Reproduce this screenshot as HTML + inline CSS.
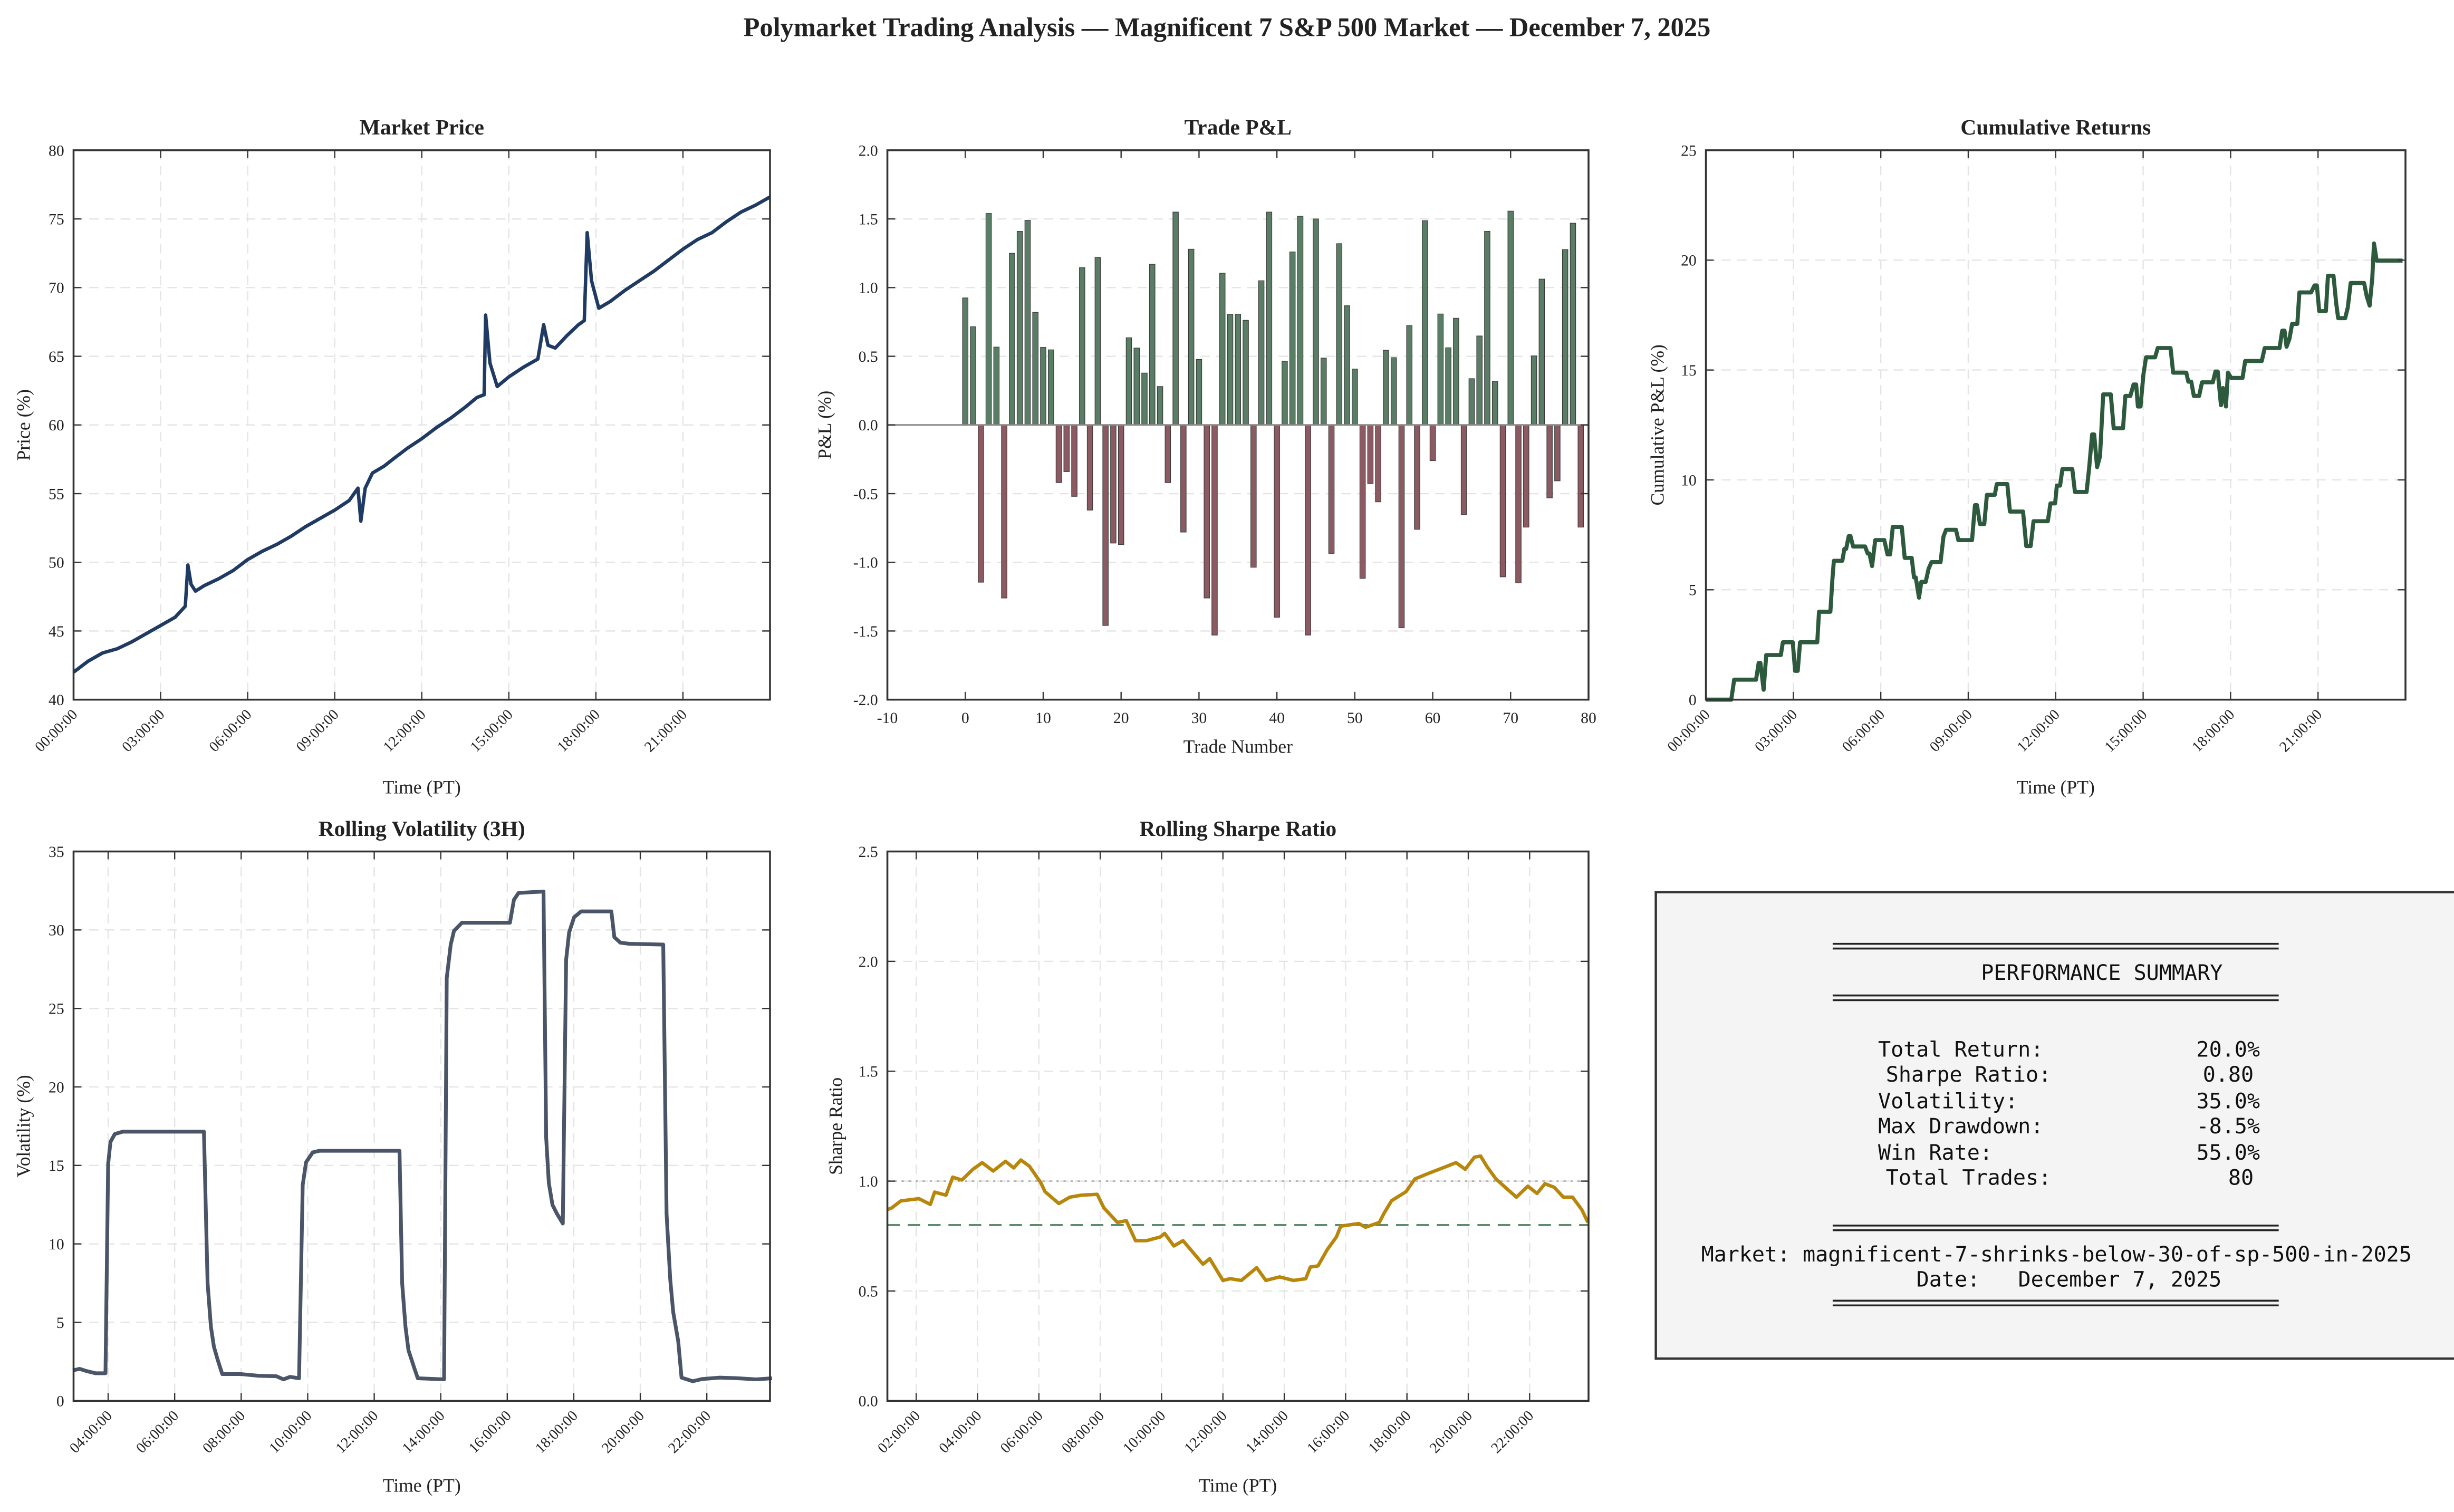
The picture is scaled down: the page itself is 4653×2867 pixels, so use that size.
<!DOCTYPE html>
<html><head><meta charset="utf-8"><style>
html,body{margin:0;padding:0;background:#fff;}
svg{display:block;}
text{font-family:"Liberation Serif",serif;fill:#222;}
.mono{font-family:"DejaVu Sans Mono","Liberation Mono",monospace;fill:#111;}
</style></head><body>
<svg id="fig" width="4653" height="2867" viewBox="0 0 1568 966" preserveAspectRatio="none" xmlns="http://www.w3.org/2000/svg">
<rect x="0" y="0" width="1568" height="966" fill="#fff"/>
<text x="784" y="23" text-anchor="middle" font-size="17" font-weight="bold">Polymarket Trading Analysis — Magnificent 7 S&amp;P 500 Market — December 7, 2025</text>
<g id="root"></g>
<g>
<rect x="1058" y="570" width="520" height="298" fill="#f4f4f4" stroke="#333" stroke-width="1.5"/>
<g stroke="#222" stroke-width="1.2">
<line x1="1171" y1="603" x2="1456" y2="603"/><line x1="1171" y1="606" x2="1456" y2="606"/>
<line x1="1171" y1="636" x2="1456" y2="636"/><line x1="1171" y1="639" x2="1456" y2="639"/>
<line x1="1171" y1="783" x2="1456" y2="783"/><line x1="1171" y1="786" x2="1456" y2="786"/>
<line x1="1171" y1="831" x2="1456" y2="831"/><line x1="1171" y1="834" x2="1456" y2="834"/>
</g>
<text class="mono" x="1343" y="626" text-anchor="middle" font-size="13.5">PERFORMANCE SUMMARY</text>
<text class="mono" x="1200" y="675" font-size="13.5">Total Return:</text>
<text class="mono" x="1444" y="675" text-anchor="end" font-size="13.5">20.0%</text>
<text class="mono" x="1205" y="691" font-size="13.5">Sharpe Ratio:</text>
<text class="mono" x="1440" y="691" text-anchor="end" font-size="13.5">0.80</text>
<text class="mono" x="1200" y="708" font-size="13.5">Volatility:</text>
<text class="mono" x="1444" y="708" text-anchor="end" font-size="13.5">35.0%</text>
<text class="mono" x="1200" y="724" font-size="13.5">Max Drawdown:</text>
<text class="mono" x="1444" y="724" text-anchor="end" font-size="13.5">-8.5%</text>
<text class="mono" x="1200" y="741" font-size="13.5">Win Rate:</text>
<text class="mono" x="1444" y="741" text-anchor="end" font-size="13.5">55.0%</text>
<text class="mono" x="1205" y="757" font-size="13.5">Total Trades:</text>
<text class="mono" x="1440" y="757" text-anchor="end" font-size="13.5">80</text>
<text class="mono" x="1314" y="806" text-anchor="middle" font-size="13.5" textLength="454">Market: magnificent-7-shrinks-below-30-of-sp-500-in-2025</text>
<text class="mono" x="1322" y="822" text-anchor="middle" font-size="13.5" xml:space="preserve">Date:   December 7, 2025</text>
</g>
</svg>
<script>
// ---------- DATA ----------
const priceHours = [0,0.5,1,1.5,2,2.5,3,3.5,3.85,3.94,4.05,4.2,4.5,5,5.5,6,6.5,7,7.5,8,8.5,9,9.5,9.8,9.9,10.05,10.3,10.7,11,11.5,12,12.5,13,13.5,13.9,14.15,14.2,14.35,14.6,15,15.5,16,16.2,16.35,16.6,17,17.4,17.6,17.7,17.85,18.1,18.5,19,19.5,20,20.5,21,21.5,22,22.5,23,23.5,24];
const priceValues = [42.0,42.8,43.4,43.7,44.2,44.8,45.4,46.0,46.8,49.8,48.4,47.9,48.3,48.8,49.4,50.2,50.8,51.3,51.9,52.6,53.2,53.8,54.5,55.4,53.0,55.4,56.5,57.0,57.5,58.3,59.0,59.8,60.5,61.3,62.0,62.2,68.0,64.5,62.8,63.5,64.2,64.8,67.3,65.8,65.6,66.5,67.3,67.6,74.0,70.5,68.5,69.0,69.8,70.5,71.2,72.0,72.8,73.5,74.0,74.8,75.5,76.0,76.6];

const tradePnl = [0.925,0.715,-1.145,1.54,0.567,-1.26,1.25,1.41,1.49,0.82,0.565,0.547,-0.42,-0.34,-0.52,1.145,-0.62,1.22,-1.46,-0.86,-0.87,0.635,0.56,0.378,1.17,0.28,-0.42,1.55,-0.78,1.28,0.477,-1.26,-1.53,1.105,0.806,0.806,0.762,-1.036,1.05,1.55,-1.40,0.464,1.26,1.52,-1.53,1.50,0.487,-0.935,1.32,0.868,0.407,-1.117,-0.427,-0.56,0.544,0.49,-1.477,0.723,-0.76,1.487,-0.26,0.808,0.562,0.777,-0.653,0.337,0.648,1.41,0.319,-1.106,1.557,-1.15,-0.744,0.503,1.062,-0.531,-0.407,1.277,1.469,-0.744];

const cumHours = [0,0.87,0.97,1.72,1.81,1.87,1.98,2.07,2.57,2.64,2.98,3.06,3.15,3.23,3.82,3.88,4.27,4.34,4.39,4.68,4.75,4.81,4.90,4.96,5.05,5.46,5.55,5.61,5.70,5.81,6.12,6.23,6.32,6.41,6.72,6.82,7.06,7.14,7.20,7.31,7.39,7.54,7.64,7.74,8.05,8.15,8.24,8.58,8.66,9.13,9.23,9.30,9.40,9.55,9.64,9.91,9.98,10.34,10.43,10.88,10.99,11.14,11.24,11.73,11.82,11.98,12.04,12.15,12.23,12.57,12.66,13.06,13.15,13.25,13.32,13.42,13.52,13.63,13.89,13.99,14.31,14.39,14.56,14.67,14.76,14.82,14.91,15.01,15.10,15.41,15.50,15.94,16.03,16.48,16.55,16.65,16.74,16.92,17.02,17.39,17.48,17.56,17.67,17.74,17.84,17.91,18.02,18.41,18.50,19.07,19.17,19.68,19.77,19.85,19.92,20.02,20.11,20.29,20.36,20.76,20.88,20.96,21.04,21.27,21.34,21.53,21.62,21.69,21.93,22.02,22.12,22.58,22.67,22.77,22.86,22.92,23.01,23.9];
const cumValues = [0,0,0.91,0.91,1.67,1.67,0.45,2.03,2.03,2.61,2.61,1.31,1.31,2.61,2.61,4.0,4.0,5.48,6.32,6.32,6.86,6.86,7.44,7.44,6.97,6.97,6.65,6.65,6.08,7.26,7.26,6.61,6.61,7.86,7.86,6.45,6.45,5.56,5.56,4.64,5.36,5.36,5.96,6.26,6.26,7.42,7.73,7.73,7.26,7.26,8.85,8.85,7.99,7.99,9.32,9.32,9.81,9.81,8.56,8.56,6.99,6.99,8.12,8.12,8.93,8.93,9.74,9.74,10.49,10.49,9.45,9.45,10.58,12.07,12.07,10.58,11.07,13.89,13.89,12.35,12.35,13.82,13.82,14.34,14.34,13.34,13.34,14.80,15.58,15.58,16.0,16.0,14.88,14.88,14.47,14.47,13.82,13.82,14.44,14.44,14.93,14.93,13.40,14.18,13.34,14.88,14.64,14.64,15.41,15.41,16.0,16.0,16.79,16.79,16.06,16.42,17.10,17.10,18.53,18.53,18.85,18.85,17.68,17.68,19.29,19.29,18.07,17.36,17.36,17.84,18.96,18.96,18.36,17.93,19.17,20.76,19.98,19.98];

const volHours = [2.94,3.14,3.35,3.62,3.92,4.0,4.07,4.2,4.44,6.88,6.99,7.09,7.18,7.29,7.43,7.97,8.52,9.06,9.27,9.47,9.74,9.85,9.95,10.15,10.35,12.76,12.84,12.94,13.03,13.21,13.31,14.1,14.18,14.3,14.4,14.64,16.08,16.2,16.34,17.09,17.17,17.25,17.36,17.5,17.67,17.77,17.86,18.01,18.22,19.13,19.22,19.4,19.67,20.69,20.79,20.9,20.99,21.14,21.24,21.58,21.85,22.39,22.94,23.48,23.96];
const volValues = [1.94,2.04,1.9,1.76,1.76,15.1,16.5,17.0,17.15,17.15,7.5,4.72,3.45,2.64,1.71,1.71,1.6,1.57,1.37,1.53,1.44,13.75,15.2,15.83,15.93,15.93,7.5,4.72,3.22,2.06,1.44,1.37,26.94,29.07,29.95,30.46,30.46,31.92,32.36,32.45,16.76,13.87,12.48,11.9,11.3,28.1,29.84,30.81,31.18,31.18,29.54,29.19,29.12,29.07,11.9,7.73,5.65,3.8,1.48,1.25,1.39,1.48,1.44,1.37,1.44];

const sharpeHours = [1.06,1.2,1.5,2.09,2.46,2.6,2.97,3.19,3.49,3.85,4.15,4.51,4.91,5.18,5.41,5.69,6.06,6.2,6.65,7.01,7.38,7.9,8.12,8.56,8.85,9.15,9.51,9.96,10.1,10.4,10.7,10.9,11.35,11.57,12.0,12.24,12.6,13.1,13.4,13.85,14.3,14.7,14.85,15.1,15.4,15.7,15.84,16.43,16.65,17.1,17.25,17.5,17.97,18.26,18.7,19.22,19.6,19.9,20.2,20.4,20.6,20.9,21.3,21.57,21.94,22.24,22.5,22.8,23.1,23.4,23.7,23.9];
const sharpeValues = [0.87,0.878,0.91,0.92,0.894,0.95,0.936,1.018,1.005,1.054,1.084,1.046,1.09,1.06,1.096,1.068,0.993,0.952,0.898,0.927,0.936,0.94,0.878,0.812,0.82,0.729,0.729,0.746,0.762,0.705,0.729,0.696,0.622,0.647,0.548,0.556,0.548,0.606,0.548,0.564,0.548,0.556,0.609,0.614,0.688,0.746,0.795,0.807,0.79,0.812,0.853,0.911,0.952,1.01,1.035,1.063,1.084,1.054,1.109,1.114,1.068,1.01,0.96,0.927,0.977,0.944,0.988,0.972,0.927,0.927,0.87,0.812];

const timeTicks3h = [0,3,6,9,12,15,18,21];
const timeTicksVol = [4,6,8,10,12,14,16,18,20,22];
const timeTicksSharpe = [2,4,6,8,10,12,14,16,18,20,22];
const priceTicks = [40,45,50,55,60,65,70,75,80];
const pnlTicks = [-2.0,-1.5,-1.0,-0.5,0.0,0.5,1.0,1.5,2.0];
const tradeTicks = [-10,0,10,20,30,40,50,60,70,80];
const cumTicks = [0,5,10,15,20,25];
const volTicks = [0,5,10,15,20,25,30,35];
const sharpeTicks = [0.0,0.5,1.0,1.5,2.0,2.5];

// ---------- DRAW ----------
const NS = "http://www.w3.org/2000/svg";
const root = document.getElementById('root');
function mk(tag, attrs, parent) {
  const e = document.createElementNS(NS, tag);
  for (const k in attrs) e.setAttribute(k, attrs[k]);
  (parent || root).appendChild(e);
  return e;
}
function pad2(h){return (h<10?'0':'')+h+':00:00';}

function panel(o) {
  const g = mk('g', {});
  
  
  const sx = v => o.l + (v - o.x0) / (o.x1 - o.x0) * (o.r - o.l);
  const sy = v => o.b - (v - o.y0) / (o.y1 - o.y0) * (o.b - o.t);
  // grid
  o.yticks.forEach(v => {
    const ln = mk('line', {x1:o.l, x2:o.r, y1:sy(v), y2:sy(v), stroke:'#e4e4e4', 'stroke-width':0.8, 'stroke-dasharray':'6,4'}, g);
    
    
  });
  if (o.vgrid) o.xticks.forEach(v => {
    const ln = mk('line', {x1:sx(v), x2:sx(v), y1:o.t, y2:o.b, stroke:'#e4e4e4', 'stroke-width':0.8, 'stroke-dasharray':'6,4'}, g);
    
    
  });
  o.draw(g, sx, sy);
  // frame
  const fr = mk('rect', {x:o.l, y:o.t, width:o.r-o.l, height:o.b-o.t, fill:'none', stroke:'#333', 'stroke-width':1.2}, g);
  
  
  // y ticks
  o.yticks.forEach(v => {
    const y = sy(v);
    mk('line', {x1:o.l, x2:o.l+5, y1:y, y2:y, stroke:'#333', 'stroke-width':0.8}, g);
    mk('line', {x1:o.r, x2:o.r-5, y1:y, y2:y, stroke:'#333', 'stroke-width':0.8}, g);
    const t = mk('text', {x:o.l-6, y:y+3.5, 'text-anchor':'end', 'font-size':10}, g);
    
    
    t.textContent = o.yfmt(v);
  });
  // x ticks
  o.xticks.forEach(v => {
    const x = sx(v);
    mk('line', {x1:x, x2:x, y1:o.b, y2:o.b-5, stroke:'#333', 'stroke-width':0.8}, g);
    mk('line', {x1:x, x2:x, y1:o.t, y2:o.t+5, stroke:'#333', 'stroke-width':0.8}, g);
    let t;
    if (o.rot) {
      t = mk('text', {x:x+3, y:o.b+10, 'text-anchor':'end', 'font-size':9.5, transform:`rotate(-45 ${x+3} ${o.b+10})`}, g);
    } else {
      t = mk('text', {x:x, y:o.b+15, 'text-anchor':'middle', 'font-size':10}, g);
    }
    
    
    t.textContent = o.xfmt(v);
  });
  const tt = mk('text', {x:(o.l+o.r)/2, y:o.t-10, 'text-anchor':'middle', 'font-size':14, 'font-weight':'bold'}, g);
  
  
  tt.textContent = o.title;
  const xl = mk('text', {x:(o.l+o.r)/2, y:o.xly, 'text-anchor':'middle', 'font-size':12}, g);
  
  
  xl.textContent = o.xlabel;
  const cy = (o.t+o.b)/2;
  const yl = mk('text', {x:o.ylx, y:cy, 'text-anchor':'middle', 'font-size':12, transform:`rotate(-90 ${o.ylx} ${cy})`}, g);
  
  
  yl.textContent = o.ylabel;
}
function linePath(g, sx, sy, xs, ys, color, w, name) {
  let d = '';
  xs.forEach((h,i) => { d += (i?'L':'M') + sx(h).toFixed(2) + ',' + sy(ys[i]).toFixed(2); });
  const p = mk('path', {d:d, fill:'none', stroke:color, 'stroke-width':w, 'stroke-linejoin':'round'}, g);
  
  
}

panel({name:'market-price-chart', title:'Market Price', l:47, r:492, t:96, b:447, x0:0, x1:24, y0:40, y1:80,
  xticks:timeTicks3h, yticks:priceTicks, vgrid:true, rot:true, xfmt:pad2, yfmt:v=>String(v),
  xlabel:'Time (PT)', xly:507, ylabel:'Price (%)', ylx:19,
  draw:(g,sx,sy)=>linePath(g,sx,sy,priceHours,priceValues,'#1f3a63',2.2,'price-line')});

panel({name:'trade-pnl-chart', title:'Trade P&L', l:567, r:1015, t:96, b:447, x0:-10, x1:80, y0:-2, y1:2,
  xticks:tradeTicks, yticks:pnlTicks, vgrid:false, rot:false, xfmt:v=>String(v), yfmt:v=>v.toFixed(1),
  xlabel:'Trade Number', xly:481, ylabel:'P&L (%)', ylx:531,
  draw:(g,sx,sy)=>{
    tradePnl.forEach((v,i) => {
      const x = sx(i-0.35), w = sx(i+0.35)-sx(i-0.35);
      const y = Math.min(sy(v), sy(0)), h = Math.abs(sy(v)-sy(0));
      const r = mk('rect', {x:x, y:y, width:w, height:h, fill: v>=0?'#5a7d65':'#8b5a62', stroke:'#3a3a3a', 'stroke-width':0.4}, g);
      
      
    });
    const z = mk('line', {x1:567, x2:1015, y1:sy(0), y2:sy(0), stroke:'#888', 'stroke-width':1}, g);
    
    
  }});

panel({name:'cumulative-returns-chart', title:'Cumulative Returns', l:1090, r:1537, t:96, b:447, x0:0, x1:24, y0:0, y1:25,
  xticks:timeTicks3h, yticks:cumTicks, vgrid:true, rot:true, xfmt:pad2, yfmt:v=>String(v),
  xlabel:'Time (PT)', xly:507, ylabel:'Cumulative P&L (%)', ylx:1063,
  draw:(g,sx,sy)=>linePath(g,sx,sy,cumHours,cumValues,'#2d5a3d',2.6,'cumulative-line')});

panel({name:'rolling-volatility-chart', title:'Rolling Volatility (3H)', l:47, r:492, t:544, b:895, x0:2.96, x1:23.9, y0:0, y1:35,
  xticks:timeTicksVol, yticks:volTicks, vgrid:true, rot:true, xfmt:pad2, yfmt:v=>String(v),
  xlabel:'Time (PT)', xly:953, ylabel:'Volatility (%)', ylx:19,
  draw:(g,sx,sy)=>linePath(g,sx,sy,volHours,volValues,'#4a5568',2.4,'volatility-line')});

panel({name:'rolling-sharpe-chart', title:'Rolling Sharpe Ratio', l:567, r:1015, t:544, b:895, x0:1.06, x1:23.92, y0:0, y1:2.5,
  xticks:timeTicksSharpe, yticks:sharpeTicks, vgrid:true, rot:true, xfmt:pad2, yfmt:v=>v.toFixed(1),
  xlabel:'Time (PT)', xly:953, ylabel:'Sharpe Ratio', ylx:538,
  draw:(g,sx,sy)=>{
    const a = mk('line', {x1:567, x2:1015, y1:sy(1.0), y2:sy(1.0), stroke:'#aaa', 'stroke-width':0.9, 'stroke-dasharray':'1.5,3'}, g);
    
    
    const b = mk('line', {x1:567, x2:1015, y1:sy(0.8), y2:sy(0.8), stroke:'#5e8a6e', 'stroke-width':1.3, 'stroke-dasharray':'8,5'}, g);
    
    
    linePath(g,sx,sy,sharpeHours,sharpeValues,'#b8860b',2.2,'sharpe-line');
  }});
</script>
</body></html>
